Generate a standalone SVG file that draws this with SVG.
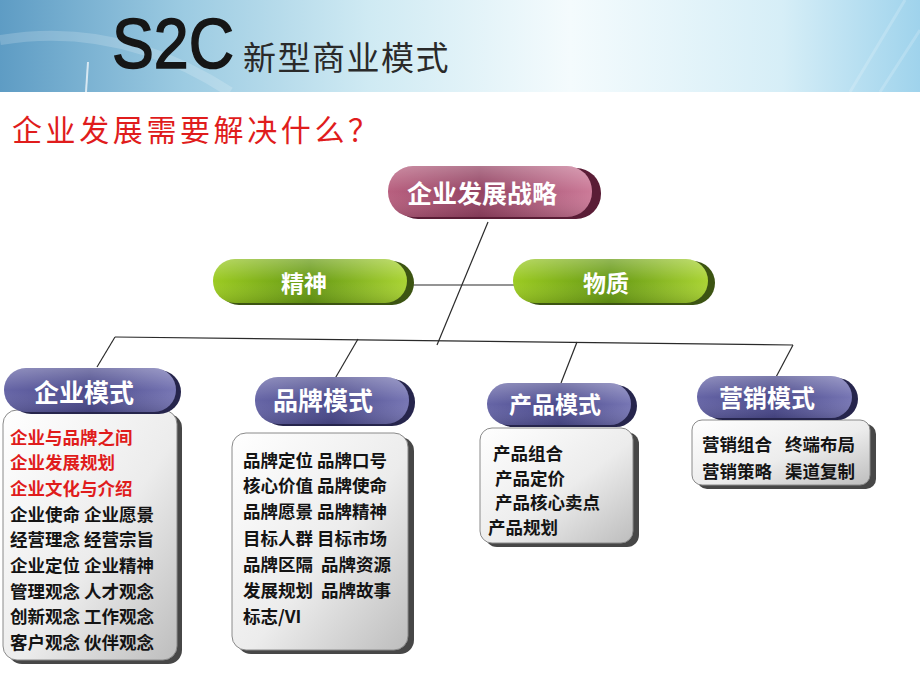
<svg xmlns="http://www.w3.org/2000/svg" width="920" height="690" viewBox="0 0 920 690">
<defs>
<linearGradient id="hdr" x1="0" y1="0" x2="1" y2="0">
<stop offset="0" stop-color="#5e9cc4"/>
<stop offset="0.2" stop-color="#9ccbe2"/>
<stop offset="0.4" stop-color="#cfeaf3"/>
<stop offset="0.62" stop-color="#f4fbfd"/>
<stop offset="0.85" stop-color="#d6eef7"/>
<stop offset="1" stop-color="#9fd3ec"/>
</linearGradient>
<linearGradient id="pink" x1="0" y1="0" x2="1" y2="0">
<stop offset="0" stop-color="#b8607f"/>
<stop offset="0.45" stop-color="#934262"/>
<stop offset="1" stop-color="#cc7a98"/>
</linearGradient>
<linearGradient id="green" x1="0" y1="0" x2="1" y2="0">
<stop offset="0" stop-color="#9ccb22"/>
<stop offset="0.5" stop-color="#679a14"/>
<stop offset="1" stop-color="#aad433"/>
</linearGradient>
<linearGradient id="purple" x1="0" y1="0" x2="1" y2="0">
<stop offset="0" stop-color="#6665a6"/>
<stop offset="0.5" stop-color="#4b4a8c"/>
<stop offset="1" stop-color="#7776b4"/>
</linearGradient>
<linearGradient id="gloss" x1="0" y1="0" x2="0" y2="1">
<stop offset="0" stop-color="#ffffff" stop-opacity="0.28"/>
<stop offset="0.5" stop-color="#ffffff" stop-opacity="0"/>
<stop offset="1" stop-color="#000000" stop-opacity="0.12"/>
</linearGradient>
<linearGradient id="box" x1="0" y1="0" x2="1" y2="1">
<stop offset="0" stop-color="#ffffff"/>
<stop offset="0.55" stop-color="#ececec"/>
<stop offset="1" stop-color="#bdbdbd"/>
</linearGradient>
</defs>
<style>
.pt{font-family:"Noto Sans CJK SC","Noto Sans",sans-serif;font-weight:bold;fill:#ffffff;text-anchor:middle;dominant-baseline:central}
.bt{font-family:"Noto Sans CJK SC","Noto Sans",sans-serif;font-weight:bold;font-size:17.5px;fill:#141414;white-space:pre;dominant-baseline:central}
.red{fill:#e01c1c}
.sh-p{fill:#5a1d36}
.sh-g{fill:#3c5412}
.sh-u{fill:#26254c}
.bx{fill:url(#box);stroke:#8a8a8a;stroke-width:1}
.bsh{fill:#474747}
.gl{fill:url(#gloss)}
#connectors line{stroke:#2a2a2a;stroke-width:1.2;fill:none}
</style>

<rect x="0" y="0" width="920" height="92" fill="url(#hdr)"/>
<path d="M0,40 Q120,20 230,92" fill="none" stroke="#ffffff" stroke-opacity="0.18" stroke-width="10"/>
<path d="M850,92 L905,0 M880,92 L920,30" stroke="#ffffff" stroke-opacity="0.18" stroke-width="3"/>
<line x1="88" y1="62" x2="86" y2="92" stroke="#ffffff" stroke-opacity="0.7" stroke-width="2"/>
<text x="112" y="68" font-family="Liberation Sans, Arial, sans-serif" font-size="70" fill="#161616" stroke="#161616" stroke-width="1.6" textLength="122" lengthAdjust="spacingAndGlyphs">S2C</text>
<text x="243" y="56" font-family="Noto Sans CJK SC, sans-serif" font-size="33" fill="#2a2a2a" letter-spacing="1.5" dominant-baseline="central">新型商业模式</text>
<text x="12" y="128" font-family="Noto Sans CJK SC, sans-serif" font-size="30" fill="#e01c1c" letter-spacing="3.6" dominant-baseline="central">企业发展需要解决什么？</text>

<g id="connectors">
<line x1="488" y1="222" x2="437" y2="345"/>
<line x1="411" y1="285" x2="514" y2="285"/>
<line x1="115" y1="337" x2="793" y2="345"/>
<line x1="115" y1="337" x2="97" y2="367"/>
<line x1="358" y1="339" x2="333" y2="382"/>
<line x1="577" y1="342" x2="561" y2="383"/>
<line x1="793" y1="345" x2="775" y2="379"/>
</g>

<g id="n-strategy">
<rect class="sh-p" x="393" y="168" width="208" height="51" rx="25"/>
<rect fill="url(#pink)" x="388" y="166" width="204" height="51" rx="25"/>
<rect class="gl" x="388" y="166" width="204" height="51" rx="25"/>
<text class="pt" x="482" y="192" font-size="25">企业发展战略</text>
</g>

<g id="n-spirit">
<rect class="sh-g" x="217" y="261" width="197" height="44" rx="22"/>
<rect fill="url(#green)" x="213" y="259" width="194" height="44" rx="22"/>
<rect class="gl" x="213" y="259" width="194" height="44" rx="22"/>
<text class="pt" x="304" y="282" font-size="23">精神</text>
</g>

<g id="n-material">
<rect class="sh-g" x="518" y="261" width="197" height="44" rx="22"/>
<rect fill="url(#green)" x="513" y="259" width="195" height="44" rx="22"/>
<rect class="gl" x="513" y="259" width="195" height="44" rx="22"/>
<text class="pt" x="606" y="282" font-size="23">物质</text>
</g>

<g id="n-enterprise">
<rect class="bsh" x="8" y="414" width="174" height="250" rx="14"/>
<rect class="bx" x="3" y="410" width="174" height="250" rx="14"/>
<text class="bt red" x="10" y="436">企业与品牌之间</text>
<text class="bt red" x="10" y="461">企业发展规划</text>
<text class="bt red" x="10" y="487">企业文化与介绍</text>
<text class="bt" x="10" y="513">企业使命 企业愿景</text>
<text class="bt" x="10" y="538">经营理念 经营宗旨</text>
<text class="bt" x="10" y="564">企业定位 企业精神</text>
<text class="bt" x="10" y="590">管理观念 人才观念</text>
<text class="bt" x="10" y="615">创新观念 工作观念</text>
<text class="bt" x="10" y="641">客户观念 伙伴观念</text>
<rect class="sh-u" x="9" y="370" width="172" height="44" rx="22"/>
<rect fill="url(#purple)" x="4" y="368" width="172" height="44" rx="22"/>
<rect class="gl" x="4" y="368" width="172" height="44" rx="22"/>
<text class="pt" x="84" y="391" font-size="25">企业模式</text>
</g>

<g id="n-brand">
<rect class="bsh" x="237" y="437" width="177" height="217" rx="14"/>
<rect class="bx" x="232" y="433" width="176" height="217" rx="14"/>
<text class="bt" x="243" y="459">品牌定位 品牌口号</text>
<text class="bt" x="243" y="484">核心价值 品牌使命</text>
<text class="bt" x="243" y="510">品牌愿景 品牌精神</text>
<text class="bt" x="243" y="537">目标人群 目标市场</text>
<text class="bt" x="243" y="563">品牌区隔  品牌资源</text>
<text class="bt" x="243" y="589">发展规划  品牌故事</text>
<text class="bt" x="243" y="615">标志/VI</text>
<rect class="sh-u" x="260" y="379" width="155" height="47" rx="23"/>
<rect fill="url(#purple)" x="255" y="377" width="154" height="47" rx="23"/>
<rect class="gl" x="255" y="377" width="154" height="47" rx="23"/>
<text class="pt" x="323" y="399" font-size="25">品牌模式</text>
</g>

<g id="n-product">
<rect class="bsh" x="485" y="432" width="154" height="115" rx="12"/>
<rect class="bx" x="480" y="428" width="153" height="115" rx="12"/>
<text class="bt" x="493" y="452">产品组合</text>
<text class="bt" x="495" y="477">产品定价</text>
<text class="bt" x="495" y="501">产品核心卖点</text>
<text class="bt" x="488" y="526">产品规划</text>
<rect class="sh-u" x="492" y="385" width="145" height="42" rx="21"/>
<rect fill="url(#purple)" x="487" y="383" width="144" height="42" rx="21"/>
<rect class="gl" x="487" y="383" width="144" height="42" rx="21"/>
<text class="pt" x="555" y="403" font-size="23">产品模式</text>
</g>

<g id="n-marketing">
<rect class="bsh" x="697" y="424" width="179" height="65" rx="10"/>
<rect class="bx" x="692" y="420" width="178" height="65" rx="10"/>
<text class="bt" x="702" y="443">营销组合</text>
<text class="bt" x="785" y="443">终端布局</text>
<text class="bt" x="702" y="470">营销策略</text>
<text class="bt" x="785" y="470">渠道复制</text>
<rect class="sh-u" x="702" y="378" width="156" height="42" rx="21"/>
<rect fill="url(#purple)" x="697" y="376" width="155" height="42" rx="21"/>
<rect class="gl" x="697" y="376" width="155" height="42" rx="21"/>
<text class="pt" x="767" y="396" font-size="24">营销模式</text>
</g>
</svg>
